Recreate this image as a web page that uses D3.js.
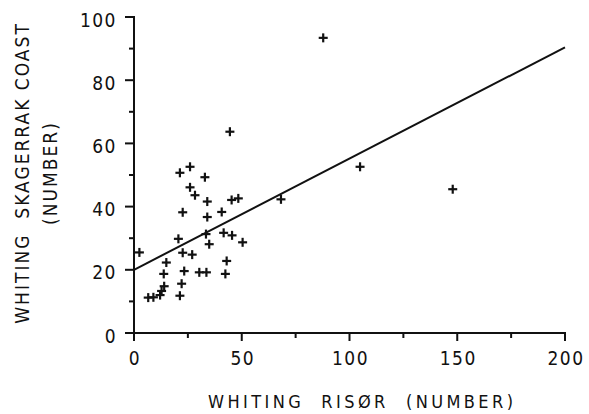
<!DOCTYPE html>
<html><head><meta charset="utf-8">
<script src="https://cdn.jsdelivr.net/npm/d3@7"></script>
<style>body{margin:0;background:#fff}svg{display:block}text{font-family:"DejaVu Sans Condensed","DejaVu Sans",sans-serif;font-stretch:condensed;fill:#111}</style>
</head><body><svg id="c" width="589" height="414"></svg>
<script>
const risor = [2.5,6.6,9.0,12.1,12.8,14.0,13.8,15.0,21.3,22.1,23.3,20.6,22.6,27.0,30.3,33.6,42.4,43.0,34.9,33.4,41.6,45.5,50.4,21.3,26.0,32.9,26.0,28.3,34.0,45.3,48.4,22.6,34.0,40.7,44.5,87.8,104.9,147.9,68.2];
const skagerrak = [25.5,11.2,11.3,12.0,13.3,14.8,18.7,22.3,11.8,15.6,19.6,29.8,25.4,24.8,19.2,19.2,18.7,22.8,28.1,31.3,31.7,30.9,28.7,50.7,52.6,49.3,46.1,43.6,41.6,42.1,42.6,38.2,36.7,38.3,63.7,93.4,52.6,45.5,42.3];
const regX = [0,200];
const regY = [20.0,90.4];
const xTicks = [0,50,100,150,200];
const yTicks = [0,20,40,60,80,100];
const xMinor = [25,75,125,175];
const yMinor = [10,30,50,70,90];
const xTitle = "WHITING  RISØR  (NUMBER)";
const yTitle1 = "WHITING  SKAGERRAK COAST";
const yTitle2 = "(NUMBER)";

const svg = d3.select("#c");
const x = d3.scaleLinear().domain([0,200]).range([134,565]);
const y = d3.scaleLinear().domain([0,100]).range([333,17]);
const ink = "#111";
const x0 = x(0), y0 = y(0);

svg.append("rect").attr("x",x0-6).attr("y",y0-1).attr("width",x(200)-x0+7).attr("height",2).attr("fill",ink);
svg.append("rect").attr("x",x0-1).attr("y",y(100)-1).attr("width",2).attr("height",y0-y(100)+7).attr("fill",ink);

svg.append("g").selectAll("rect").data(xTicks).join("rect")
  .attr("x",d=>x(d)-1).attr("y",y0).attr("width",2).attr("height",8).attr("fill",ink);
svg.append("g").selectAll("rect").data(xMinor).join("rect")
  .attr("x",d=>x(d)-1).attr("y",y0).attr("width",2).attr("height",5).attr("fill",ink);
svg.append("g").selectAll("rect").data(yTicks).join("rect")
  .attr("x",x0-9).attr("y",d=>y(d)-1).attr("width",9).attr("height",2).attr("fill",ink);
svg.append("g").selectAll("rect").data(yMinor).join("rect")
  .attr("x",x0-5).attr("y",d=>y(d)-1).attr("width",5).attr("height",2).attr("fill",ink);

svg.append("g").selectAll("text").data(xTicks).join("text")
  .attr("x",d=>x(d)+1).attr("y",y0+32).attr("text-anchor","middle").attr("font-size",19).attr("letter-spacing",1.5)
  .text(d=>d);
svg.append("g").selectAll("text").data(yTicks).join("text")
  .attr("x",x0-17).attr("y",d=>y(d)+9.5).attr("text-anchor","end").attr("font-size",19).attr("letter-spacing",1.5)
  .text(d=>d);

svg.append("line").attr("x1",x(regX[0])).attr("y1",y(regY[0])).attr("x2",x(regX[1])).attr("y2",y(regY[1]))
  .attr("stroke",ink).attr("stroke-width",2);

const s = 4.5;
const pts = svg.append("g").selectAll("g").data(risor.map((v,i)=>[v,skagerrak[i]])).join("g")
  .attr("transform",d=>`translate(${x(d[0])},${y(d[1])})`);
pts.append("line").attr("x1",-s).attr("x2",s).attr("stroke",ink).attr("stroke-width",2.2);
pts.append("line").attr("y1",-s).attr("y2",s).attr("stroke",ink).attr("stroke-width",2.2);

svg.append("text").attr("x",208).attr("y",408).attr("font-size",18)
  .attr("textLength",305).attr("lengthAdjust","spacing").style("white-space","pre").text(xTitle);
svg.append("text").attr("transform","translate(28.5,173) rotate(-90)").attr("text-anchor","middle").attr("font-size",19)
  .attr("letter-spacing",2).style("white-space","pre").text(yTitle1);
svg.append("text").attr("transform","translate(57,173) rotate(-90)").attr("text-anchor","middle").attr("font-size",19)
  .attr("letter-spacing",2).style("white-space","pre").text(yTitle2);
</script></body></html>
